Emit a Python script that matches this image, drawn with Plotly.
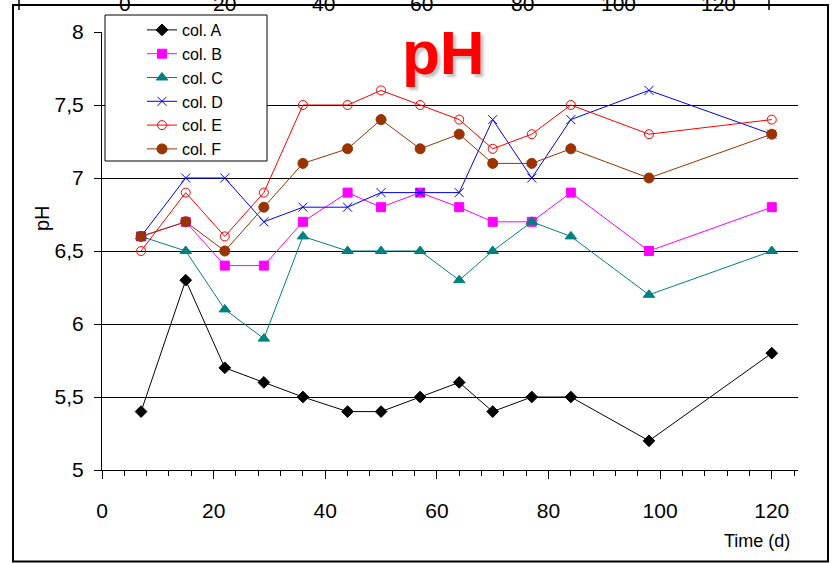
import plotly.graph_objects as go

# Sampling days
days = [7, 15, 22, 29, 36, 44, 50, 57, 64, 70, 77, 84, 98, 120]

# pH readings per column
col_a = [5.4, 6.3, 5.7, 5.6, 5.5, 5.4, 5.4, 5.5, 5.6, 5.4, 5.5, 5.5, 5.2, 5.8]
col_b = [6.6, 6.7, 6.4, 6.4, 6.7, 6.9, 6.8, 6.9, 6.8, 6.7, 6.7, 6.9, 6.5, 6.8]
col_c = [6.6, 6.5, 6.1, 5.9, 6.6, 6.5, 6.5, 6.5, 6.3, 6.5, 6.7, 6.6, 6.2, 6.5]
col_d = [6.6, 7.0, 7.0, 6.7, 6.8, 6.8, 6.9, 6.9, 6.9, 7.4, 7.0, 7.4, 7.6, 7.3]
col_e = [6.5, 6.9, 6.6, 6.9, 7.5, 7.5, 7.6, 7.5, 7.4, 7.2, 7.3, 7.5, 7.3, 7.4]
col_f = [6.6, 6.7, 6.5, 6.8, 7.1, 7.2, 7.4, 7.2, 7.3, 7.1, 7.1, 7.2, 7.0, 7.3]

series_names = ["col. A", "col. B", "col. C", "col. D", "col. E", "col. F"]

# Axis ticks
y_tickvals = [5, 5.5, 6, 6.5, 7, 7.5, 8]
y_ticktext = ["5", "5,5", "6", "6,5", "7", "7,5", "8"]
x_tickvals = [0, 20, 40, 60, 80, 100, 120]

# Fragment of the neighbouring chart's axis along the top edge
top_ticks = ["0", "20", "40", "60", "80", "100", "120"]

FONT = "Arial, Liberation Sans, sans-serif"
W, H = 838, 563
ML, MR, MT, MB = 102, 40, 32, 93
PW, PH = W - ML - MR, H - MT - MB


def px_x(px):
    return (px - ML) / PW


def px_y(py):
    return (H - MB - py) / PH


styles = [
    dict(color="#000000", symbol="diamond", size=9),
    dict(color="#FF00FF", symbol="square", size=9),
    dict(color="#008080", symbol="triangle-up", size=10),
    dict(color="#0000FF", symbol="x-thin", size=9),
    dict(color="#FF0000", symbol="circle-open", size=9),
    dict(color="#993300", symbol="circle", size=10),
]

fig = go.Figure()
for name, vals, st in zip(series_names, [col_a, col_b, col_c, col_d, col_e, col_f], styles):
    fig.add_trace(go.Scatter(
        x=days, y=vals, name=name, mode="lines+markers",
        line=dict(color=st["color"], width=1),
        marker=dict(symbol=st["symbol"], size=st["size"], color=st["color"],
                    line=dict(color=st["color"], width=1)),
    ))

shapes = [
    # outer frame
    dict(type="rect", xref="paper", yref="paper",
         x0=px_x(13), x1=px_x(828), y0=px_y(561.5), y1=px_y(5),
         line=dict(color="black", width=2), fillcolor="rgba(0,0,0,0)", layer="above"),
    # legend box
    dict(type="rect", xref="paper", yref="paper",
         x0=px_x(105), x1=px_x(267), y0=px_y(161), y1=px_y(15),
         line=dict(color="black", width=1), fillcolor="white", layer="above"),
    # stray tick marks of the neighbouring chart
    dict(type="line", xref="paper", yref="paper",
         x0=px_x(19), x1=px_x(19), y0=px_y(10), y1=px_y(-2),
         line=dict(color="black", width=1.5)),
    dict(type="line", xref="paper", yref="paper",
         x0=px_x(769), x1=px_x(769), y0=px_y(10), y1=px_y(-2),
         line=dict(color="black", width=1.5)),
]

annotations = [
    dict(text="<b>pH</b>", xref="paper", yref="paper", x=px_x(443), y=px_y(52),
         showarrow=False, xanchor="center", yanchor="middle",
         font=dict(family=FONT, size=62, color="#FF0000",
                   shadow="3px 3px 3px rgba(0,0,0,0.25)")),
    dict(text="pH", xref="paper", yref="paper", x=px_x(42), y=px_y(218),
         showarrow=False, textangle=-90, xanchor="center", yanchor="middle",
         font=dict(family=FONT, size=20, color="black")),
    dict(text="Time (d)", xref="paper", yref="paper", x=px_x(792), y=px_y(541),
         showarrow=False, xanchor="right", yanchor="middle",
         font=dict(family=FONT, size=18, color="black")),
]
top_px = [125, 224, 323, 421, 522, 618, 718]
for lbl, tx in zip(top_ticks, top_px):
    annotations.append(dict(text=lbl, xref="paper", yref="paper", x=px_x(tx), y=px_y(3.5),
                            showarrow=False, xanchor="center", yanchor="middle",
                            font=dict(family=FONT, size=21, color="black")))

fig.update_layout(
    width=W, height=H,
    margin=dict(l=ML, r=MR, t=MT, b=MB),
    paper_bgcolor="white", plot_bgcolor="white",
    font=dict(family=FONT, color="black"),
    showlegend=True,
    legend=dict(x=px_x(142), y=px_y(13), xanchor="left", yanchor="top",
                bgcolor="rgba(0,0,0,0)", borderwidth=0,
                font=dict(family=FONT, size=16, color="black"),
                itemwidth=30, tracegroupgap=0),
    shapes=shapes,
    annotations=annotations,
)

fig.update_xaxes(
    range=[0, 124.7], tickvals=x_tickvals, showgrid=False, zeroline=False,
    showline=True, linecolor="black", linewidth=1,
    ticks="outside", ticklen=8, tickcolor="black", tickwidth=1,
    minor=dict(dtick=4, ticks="outside", ticklen=5, tickcolor="black", tickwidth=1, showgrid=False),
    tickfont=dict(family=FONT, size=21, color="black"), ticklabelstandoff=14,
)
fig.update_yaxes(
    range=[5, 8], tickvals=y_tickvals, ticktext=y_ticktext,
    showgrid=True, gridcolor="black", gridwidth=1, zeroline=False,
    showline=True, linecolor="black", linewidth=1,
    ticks="outside", ticklen=7, tickcolor="black", tickwidth=1,
    tickfont=dict(family=FONT, size=21, color="black"), ticklabelstandoff=6,
)

fig.write_html("out.html")
